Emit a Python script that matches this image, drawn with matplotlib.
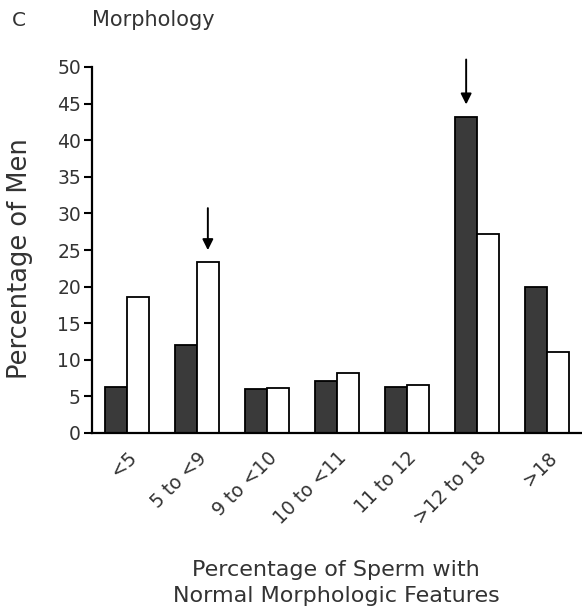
import numpy as np
import matplotlib.pyplot as plt

plt.rcParams['font.family'] = ['DejaVu Sans']

# Data
categories = ['<5', '5 to <9', '9 to <10', '10 to <11', '11 to 12', '>12 to 18', '>18']
dark_vals = [6.3, 12.0, 6.0, 7.1, 6.3, 43.2, 19.9]
white_vals = [18.6, 23.4, 6.2, 8.2, 6.5, 27.2, 11.1]
y_ticks = [0, 5, 10, 15, 20, 25, 30, 35, 40, 45, 50]

txt = '#333333'

fig = plt.figure(figsize=(5.82, 6.13), dpi=100)
ax = fig.add_axes([92 / 582, 1 - 433 / 613, 490 / 582, 366 / 613])

x = np.arange(len(categories))
w = 0.31
ax.bar(x - w / 2, dark_vals, w, color='#3a3a3a', edgecolor='black', linewidth=1.3)
ax.bar(x + w / 2, white_vals, w, color='white', edgecolor='black', linewidth=1.3)

# arrows marking the reference groups
ax.annotate('', xy=(1 + w / 2, 24.6), xytext=(1 + w / 2, 31.1),
            arrowprops=dict(arrowstyle='-|>', color='black', lw=1.4, mutation_scale=16))
ax.annotate('', xy=(5 - w / 2, 44.5), xytext=(5 - w / 2, 51.4),
            arrowprops=dict(arrowstyle='-|>', color='black', lw=1.4, mutation_scale=16),
            annotation_clip=False)

ax.set_xlim(-0.5, 6.5)
ax.set_ylim(0, 50)
ax.set_yticks(y_ticks)
ax.set_xticks(x)
ax.set_xticklabels(categories, rotation=45, ha='right', rotation_mode='anchor',
                   fontsize=13.5, color=txt)
ax.tick_params(axis='x', length=0, pad=11)
ax.tick_params(axis='y', labelsize=13.5, labelcolor=txt, length=6, width=1.5, pad=2,
               direction='out')
ax.spines['top'].set_visible(False)
ax.spines['right'].set_visible(False)
ax.spines['left'].set_linewidth(1.6)
ax.spines['bottom'].set_linewidth(1.6)

fig.text(20 / 582, 1 - 259 / 613, 'Percentage of Men', rotation=90,
         ha='center', va='center', fontsize=18.5, color=txt)
fig.text(336 / 582, 1 - 583 / 613, 'Percentage of Sperm with\nNormal Morphologic Features',
         ha='center', va='center', fontsize=16, color=txt, linespacing=1.4)

fig.text(12 / 582, 1 - 20 / 613, 'C', ha='left', va='center', fontsize=14.5, color=txt)
fig.text(92 / 582, 1 - 20 / 613, 'Morphology', ha='left', va='center', fontsize=15, color=txt)

fig.savefig('out.png', dpi=100)
